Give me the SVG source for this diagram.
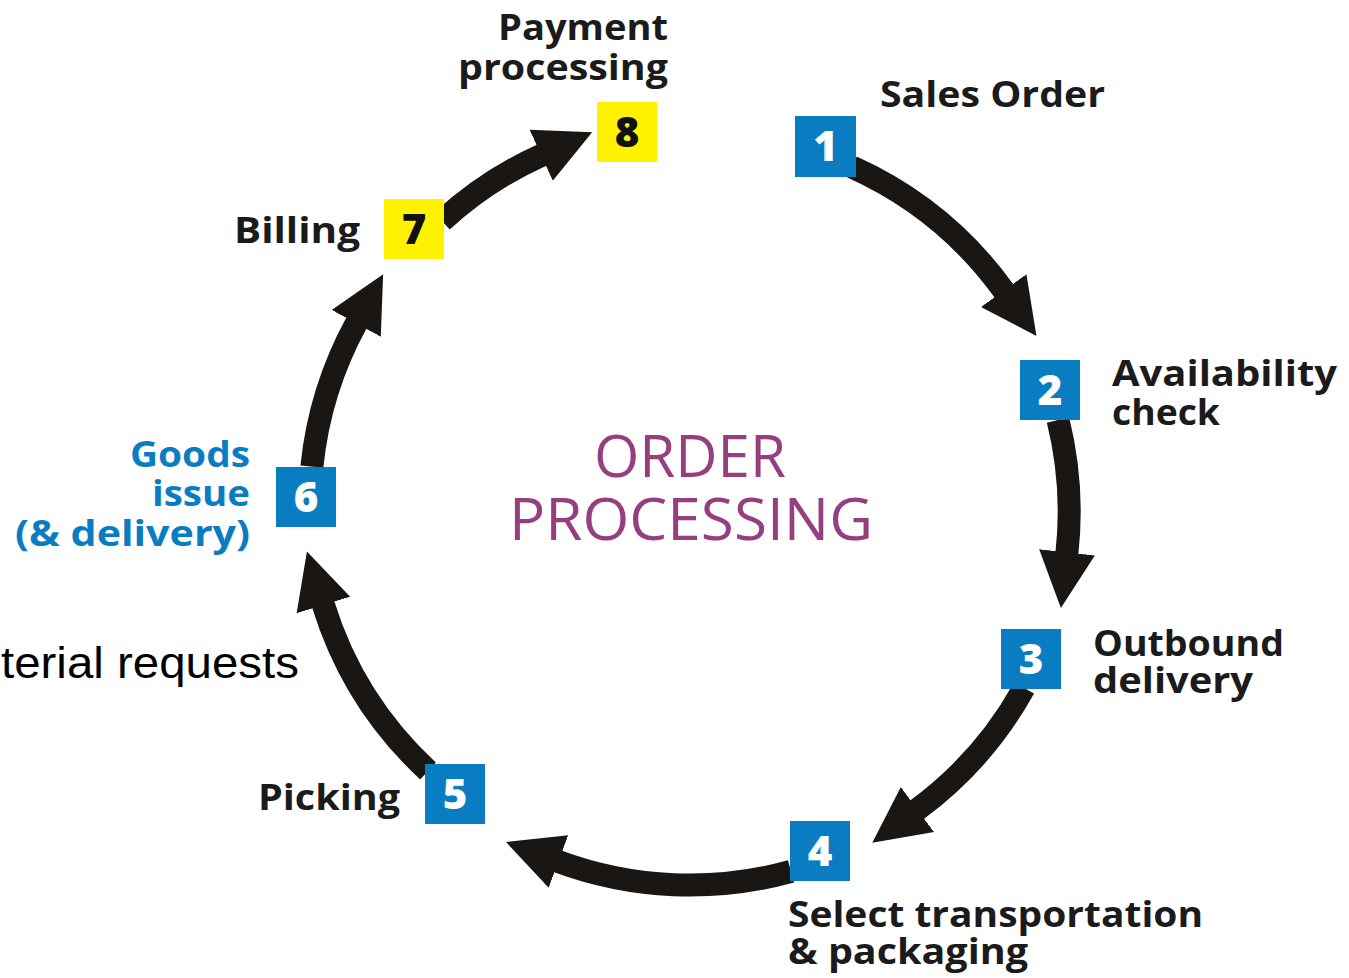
<svg xmlns="http://www.w3.org/2000/svg" width="1349" height="978" viewBox="0 0 1349 978">
<style>
.bg{fill:#ffffff}
.box-blue{fill:#0a7dc2}
.box-yellow{fill:#fff200}
.num{font-family:"Open Sans","Noto Sans","DejaVu Sans",sans-serif;font-weight:800;font-size:42px;text-anchor:middle}
.num-w{fill:#ffffff}
.num-b{fill:#111111}
.lbl{font-family:"Open Sans","Noto Sans","DejaVu Sans",sans-serif;font-weight:700;font-size:36px;fill:#1b1b1b}
.lbl-blue{fill:#0a7dc2}
.title{font-family:"Open Sans","Noto Sans","DejaVu Sans",sans-serif;font-weight:400;font-size:58px;fill:#963f7e;text-anchor:middle}
.plain{font-family:"Liberation Sans",Arial,sans-serif;font-size:44px;fill:#000000}
.arc{fill:none;stroke:#1a1613;stroke-width:23;stroke-linecap:butt}
</style>
<defs>
<marker id="head" markerUnits="userSpaceOnUse" markerWidth="60" markerHeight="64" viewBox="0 -32 60 64" refX="1" refY="0" orient="auto">
<path d="M0,-28 L56,0 L0,28 Z" fill="#1a1613"/>
</marker>
</defs>
<rect class="bg" x="0" y="0" width="1349" height="978"/>

<g id="connectors">
<path class="arc" d="M 852 167 A 380 380 0 0 1 1004.3 291.4" marker-end="url(#head)"/>
<path class="arc" d="M 1058 420 A 380 380 0 0 1 1066.9 553.3" marker-end="url(#head)"/>
<path class="arc" d="M 1024 688 A 380 380 0 0 1 916.6 810.1" marker-end="url(#head)"/>
<path class="arc" d="M 791 871.4 A 380 380 0 0 1 557.5 861.2" marker-end="url(#head)"/>
<path class="arc" d="M 428 771 A 380 380 0 0 1 323.1 604.0" marker-end="url(#head)"/>
<path class="arc" d="M 311.9 466.6 A 380 380 0 0 1 356.7 322.5" marker-end="url(#head)"/>
<path class="arc" d="M 442 221 A 380 380 0 0 1 542.1 154.9" marker-end="url(#head)"/>
</g>

<g id="center-title">
<text class="title" x="690" y="477" textLength="192" lengthAdjust="spacingAndGlyphs">ORDER</text>
<text class="title" x="691" y="540" textLength="364" lengthAdjust="spacingAndGlyphs">PROCESSING</text>
</g>

<g id="node1">
<rect class="box-blue" x="795" y="116" width="61" height="61"/>
<text class="num num-w" x="825.5" y="161">1</text>
<text class="lbl" x="880" y="107" textLength="225" lengthAdjust="spacingAndGlyphs">Sales Order</text>
</g>

<g id="node2">
<rect class="box-blue" x="1020" y="360" width="60" height="60"/>
<text class="num num-w" x="1050" y="405">2</text>
<text class="lbl" x="1112" y="386" textLength="225" lengthAdjust="spacingAndGlyphs">Availability</text>
<text class="lbl" x="1112" y="425" textLength="108" lengthAdjust="spacingAndGlyphs">check</text>
</g>

<g id="node3">
<rect class="box-blue" x="1001" y="629" width="60" height="60"/>
<text class="num num-w" x="1031" y="674">3</text>
<text class="lbl" x="1093" y="656" textLength="191" lengthAdjust="spacingAndGlyphs">Outbound</text>
<text class="lbl" x="1093" y="693" textLength="160" lengthAdjust="spacingAndGlyphs">delivery</text>
</g>

<g id="node4">
<rect class="box-blue" x="790" y="821" width="60" height="60"/>
<text class="num num-w" x="820" y="866">4</text>
<text class="lbl" x="788" y="927" textLength="415" lengthAdjust="spacingAndGlyphs">Select transportation</text>
<text class="lbl" x="788" y="964" textLength="240" lengthAdjust="spacingAndGlyphs">&amp; packaging</text>
</g>

<g id="node5">
<rect class="box-blue" x="425" y="764" width="60" height="60"/>
<text class="num num-w" x="455" y="809">5</text>
<text class="lbl" x="258" y="810" textLength="142" lengthAdjust="spacingAndGlyphs">Picking</text>
</g>

<g id="node6">
<rect class="box-blue" x="276" y="467" width="60" height="60"/>
<text class="num num-w" x="306" y="512">6</text>
<text class="lbl lbl-blue" x="250" y="467" text-anchor="end" textLength="120" lengthAdjust="spacingAndGlyphs">Goods</text>
<text class="lbl lbl-blue" x="250" y="506" text-anchor="end" textLength="98" lengthAdjust="spacingAndGlyphs">issue</text>
<text class="lbl lbl-blue" x="250" y="546" text-anchor="end" textLength="235" lengthAdjust="spacingAndGlyphs">(&amp; delivery)</text>
</g>

<g id="node7">
<rect class="box-yellow" x="384" y="199" width="60" height="60"/>
<text class="num num-b" x="414" y="244">7</text>
<text class="lbl" x="234" y="243" textLength="126" lengthAdjust="spacingAndGlyphs">Billing</text>
</g>

<g id="node8">
<rect class="box-yellow" x="597" y="102" width="60" height="60"/>
<text class="num num-b" x="627" y="147">8</text>
<text class="lbl" x="668" y="40" text-anchor="end" textLength="170" lengthAdjust="spacingAndGlyphs">Payment</text>
<text class="lbl" x="668" y="80" text-anchor="end" textLength="210" lengthAdjust="spacingAndGlyphs">processing</text>
</g>

<g id="side-note">
<text class="plain" x="1" y="678" textLength="298" lengthAdjust="spacingAndGlyphs">terial requests</text>
</g>
</svg>
